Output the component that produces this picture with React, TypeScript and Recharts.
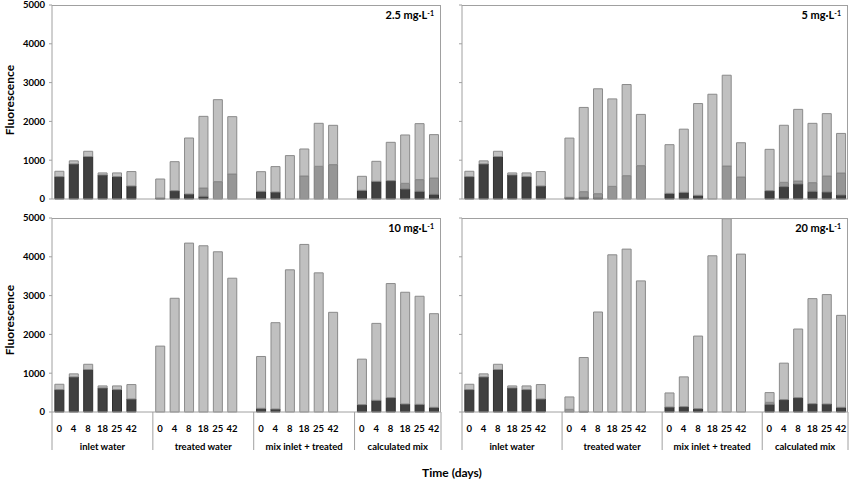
import React from "react";
import { BarChart, Bar, XAxis, YAxis } from "recharts";

const DAYS = ["0", "4", "8", "18", "25", "42"];
const GROUPS = ["inlet water", "treated water", "mix inlet + treated", "calculated mix"];
const Y_TICKS = [0, 1000, 2000, 3000, 4000, 5000];

// bar tops, 6 days per group, groups in GROUPS order
// TOTAL = top of the light bar, MID = top of the medium grey part, DARK = top of the dark part
const TOTAL_25 = [715, 983, 1230, 672, 672, 707, 515, 962, 1572, 2130, 2560, 2122, 704, 835, 1118, 1289, 1951, 1899, 585, 971, 1461, 1650, 1942, 1659];
const MID_25 = [0, 0, 0, 0, 0, 0, 0, 0, 0, 283, 447, 644, 0, 0, 0, 593, 843, 886, 0, 0, 0, 404, 499, 541];
const DARK_25 = [578, 905, 1095, 621, 578, 336, 26, 215, 129, 69, 0, 0, 198, 180, 0, 0, 0, 0, 224, 456, 473, 258, 198, 121];

const TOTAL_5 = [715, 983, 1230, 672, 672, 707, 1570, 2360, 2840, 2580, 2950, 2180, 1400, 1800, 2460, 2700, 3190, 1450, 1280, 1900, 2310, 1950, 2200, 1690];
const MID_5 = [0, 0, 0, 0, 0, 0, 0, 189, 137, 326, 601, 859, 0, 0, 0, 0, 850, 567, 0, 430, 464, 421, 593, 670];
const DARK_5 = [578, 905, 1095, 621, 578, 336, 43, 43, 26, 0, 0, 0, 146, 172, 95, 0, 0, 0, 215, 318, 387, 198, 180, 103];

const TOTAL_10 = [715, 983, 1230, 672, 672, 707, 1698, 2931, 4353, 4284, 4129, 3448, 1431, 2302, 3664, 4319, 3586, 2569, 1362, 2284, 3310, 3086, 2983, 2534];
const MID_10 = [0, 0, 0, 0, 0, 0, 0, 0, 0, 0, 0, 0, 0, 0, 0, 0, 0, 0, 0, 0, 0, 0, 0, 0];
const DARK_10 = [578, 905, 1095, 621, 578, 336, 0, 0, 0, 0, 0, 0, 95, 78, 0, 0, 0, 0, 190, 302, 371, 207, 198, 121];

const TOTAL_20 = [715, 983, 1230, 672, 672, 707, 388, 1405, 2577, 4051, 4198, 3379, 491, 905, 1957, 4026, 4982, 4069, 500, 1259, 2138, 2922, 3026, 2491];
const MID_20 = [0, 0, 0, 0, 0, 0, 69, 0, 0, 0, 0, 0, 0, 0, 0, 0, 0, 0, 250, 0, 0, 0, 0, 0];
const DARK_20 = [578, 905, 1095, 621, 578, 336, 0, 17, 0, 0, 0, 0, 129, 138, 86, 0, 0, 0, 198, 319, 371, 215, 207, 121];

const FONT = "Lato, 'Open Sans', sans-serif";
const AXIS = "#a0a0a0";

type Row = { key: string; day: string; group: number; first: boolean; dark: number; mid: number; light: number };

function buildRows(total: number[], mid: number[], dark: number[]): Row[] {
  const rows: Row[] = [];
  GROUPS.forEach((_, gi) => {
    DAYS.forEach((d, di) => {
      const i = gi * DAYS.length + di;
      const under = Math.max(dark[i], mid[i]);
      rows.push({
        key: `${gi}-${d}`,
        day: d,
        group: gi,
        first: di === 0,
        dark: dark[i],
        mid: mid[i] > dark[i] ? mid[i] - dark[i] : 0,
        light: total[i] - under,
      });
    });
    // empty slot between the groups
    if (gi < GROUPS.length - 1) {
      rows.push({ key: `gap-${gi}`, day: "", group: gi, first: false, dark: 0, mid: 0, light: 0 });
    }
  });
  return rows;
}

function GroupTick(props: any) {
  const { x, y, payload, rows, slot } = props;
  const idx = rows.findIndex((r: Row) => r.key === payload.value);
  const row: Row = rows[idx];
  if (!row) return null;
  const span = rows.filter((r: Row) => r.group === row.group).length;
  const txt = { fontFamily: FONT, fontSize: 9.5, fontWeight: 700, fill: "#000" };
  return (
    <g>
      <text x={x} y={y + 20} textAnchor="middle" style={txt}>
        {row.day}
      </text>
      {row.first && (
        <>
          <line x1={x - slot / 2} x2={x - slot / 2} y1={y} y2={y + 38} stroke={AXIS} />
          <text x={x - slot / 2 + (span * slot) / 2} y={y + 38} textAnchor="middle" style={txt}>
            {GROUPS[row.group]}
          </text>
        </>
      )}
      {idx === rows.length - 1 && <line x1={x + slot / 2} x2={x + slot / 2} y1={y} y2={y + 38} stroke={AXIS} />}
    </g>
  );
}

const Y_W = 52;
const M_TOP = 6;
const M_RIGHT = 6;

interface PanelProps {
  x: number;
  y: number;
  w: number;
  h: number;
  rows: Row[];
  conc: string;
  yLabels: boolean;
  xLabels: boolean;
}

function Panel({ x, y, w, h, rows, conc, yLabels, xLabels }: PanelProps) {
  const xh = xLabels ? 46 : 4;
  const slot = w / rows.length;
  return (
    <>
      <div style={{ position: "absolute", left: x - Y_W, top: y - M_TOP }}>
        <BarChart
          width={Y_W + w + M_RIGHT}
          height={M_TOP + h + xh}
          data={rows}
          margin={{ top: M_TOP, right: M_RIGHT, bottom: 0, left: 0 }}
          barCategoryGap="20%"
        >
          <XAxis
            dataKey="key"
            interval={0}
            height={xh}
            tickLine={false}
            tickSize={0}
            tickMargin={0}
            axisLine={{ stroke: AXIS }}
            tick={xLabels ? (p: any) => <GroupTick {...p} rows={rows} slot={slot} /> : false}
          />
          <YAxis
            width={Y_W}
            domain={[0, 5000]}
            ticks={Y_TICKS}
            interval={0}
            tickSize={3}
            tickMargin={4}
            axisLine={{ stroke: AXIS }}
            tickLine={{ stroke: AXIS }}
            tick={{ fill: "#000", fontSize: 9.5, fontWeight: 700, fontFamily: FONT }}
            tickFormatter={(v: number) => (yLabels ? String(v) : "")}
          />
          <Bar dataKey="dark" stackId="s" fill="#404040" stroke="#2e2e2e" isAnimationActive={false} />
          <Bar dataKey="mid" stackId="s" fill="#969696" stroke="#7a7a7a" isAnimationActive={false} />
          <Bar dataKey="light" stackId="s" fill="#c0c0c0" stroke="#8a8a8a" isAnimationActive={false} />
        </BarChart>
      </div>
      <div
        style={{
          position: "absolute",
          left: x,
          top: y,
          width: w,
          height: h,
          borderTop: `1px solid ${AXIS}`,
          borderRight: `1px solid ${AXIS}`,
          boxSizing: "border-box",
          pointerEvents: "none",
        }}
      />
      <div
        style={{
          position: "absolute",
          right: 851 - (x + w - 7),
          top: y + 3,
          fontFamily: FONT,
          fontSize: 11,
          fontWeight: 700,
          whiteSpace: "nowrap",
          lineHeight: "14px",
        }}
      >
        {conc} mg·L<sup style={{ fontSize: 7, verticalAlign: "top", lineHeight: "10px" }}>-1</sup>
      </div>
    </>
  );
}

export default function App() {
  const axisTitle: React.CSSProperties = {
    position: "absolute",
    fontFamily: FONT,
    fontSize: 12,
    fontWeight: 700,
    whiteSpace: "nowrap",
    transform: "translate(-50%, -50%)",
  };
  return (
    <div style={{ position: "absolute", left: 0, top: 0, width: 851, height: 481, background: "#fff", overflow: "hidden" }}>
      <Panel x={52} y={5} w={389} h={194} rows={buildRows(TOTAL_25, MID_25, DARK_25)} conc="2.5" yLabels xLabels={false} />
      <Panel x={462} y={5} w={386} h={194} rows={buildRows(TOTAL_5, MID_5, DARK_5)} conc="5" yLabels={false} xLabels={false} />
      <Panel x={52} y={218} w={389} h={194} rows={buildRows(TOTAL_10, MID_10, DARK_10)} conc="10" yLabels xLabels />
      <Panel x={462} y={218} w={386} h={194} rows={buildRows(TOTAL_20, MID_20, DARK_20)} conc="20" yLabels={false} xLabels />
      <div style={{ ...axisTitle, left: 9, top: 100, transform: "translate(-50%, -50%) rotate(-90deg)" }}>Fluorescence</div>
      <div style={{ ...axisTitle, left: 9, top: 320, transform: "translate(-50%, -50%) rotate(-90deg)" }}>Fluorescence</div>
      <div style={{ ...axisTitle, left: 452, top: 472 }}>Time (days)</div>
    </div>
  );
}
